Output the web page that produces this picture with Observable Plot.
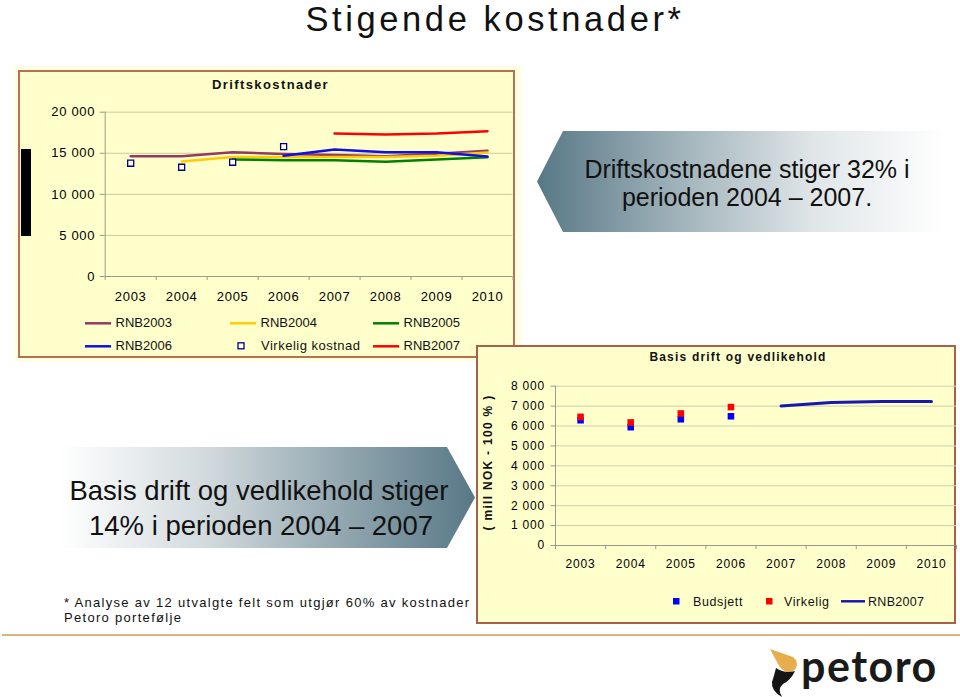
<!DOCTYPE html>
<html><head><meta charset="utf-8">
<script src="https://cdn.jsdelivr.net/npm/d3@7"></script>
<script src="https://cdn.jsdelivr.net/npm/@observablehq/plot@0.6"></script>
<style>
body{margin:0;background:#fff;font-family:"Liberation Sans",Arial,sans-serif;}
#slide{position:relative;width:960px;height:697px;overflow:hidden;background:#fff;}
#slide > *{position:absolute;}
.panel{box-sizing:border-box;background:#FFFFCC;}
</style></head><body>
<div id="slide">
<svg id="bg" width="960" height="697" style="left:0;top:0">
  <defs>
    <linearGradient id="g1" gradientUnits="userSpaceOnUse" x1="537" y1="0" x2="945" y2="0">
      <stop offset="0" stop-color="#587886"/><stop offset="0.33" stop-color="#9DB0B8"/>
      <stop offset="0.68" stop-color="#E0E6E8"/><stop offset="1" stop-color="#FFFFFF"/>
    </linearGradient>
    <linearGradient id="g2" gradientUnits="userSpaceOnUse" x1="476" y1="0" x2="60" y2="0">
      <stop offset="0" stop-color="#587886"/><stop offset="0.3" stop-color="#8EA4AD"/>
      <stop offset="0.65" stop-color="#D2DADD"/><stop offset="1" stop-color="#FFFFFF"/>
    </linearGradient>
  </defs>
  <text x="495" y="31" text-anchor="middle" font-size="34.5" letter-spacing="3.6" fill="#111">Stigende kostnader*</text>
  <polygon points="563,131 960,131 960,232 563,232 537,181.5" fill="url(#g1)"/>
  <text x="747" y="177.7" text-anchor="middle" font-size="25" fill="#111">Driftskostnadene stiger 32% i</text>
  <text x="747" y="206.2" text-anchor="middle" font-size="25" fill="#111">perioden 2004 – 2007.</text>
  <polygon points="40,447 447,447 475,497.5 447,548 40,548" fill="url(#g2)"/>
  <text x="259" y="500" text-anchor="middle" font-size="27.5" fill="#111">Basis drift og vedlikehold stiger</text>
  <text x="261" y="535" text-anchor="middle" font-size="27.5" fill="#111">14% i perioden 2004 – 2007</text>
  <text x="64" y="606.7" font-size="13" letter-spacing="1.3" fill="#111">* Analyse av 12 utvalgte felt som utgjør 60% av kostnader</text>
  <text x="64" y="621.7" font-size="13" letter-spacing="1.3" fill="#111">Petoro portefølje</text>
  <line x1="2" x2="960" y1="635" y2="635" stroke="#D6B57E" stroke-width="1.8"/>
  <path d="M770,649 L793,657 Q799,662 796,668 Q793,673 787,672 Q781,670 778,664 Z" fill="#E6AE4C"/>
  <path d="M776,668 Q785,674 795,671 Q791,680 783,684 Q777,689 782,697 Q771,691 772,682 Q774,676 776,668 Z" fill="#151515"/>
  <text x="801" y="682" font-family="Lato" font-weight="700" font-size="43" letter-spacing="1.5" fill="#1a1a1a">petoro</text>
</svg>
<div style="left:14px;top:66px;width:508px;height:296px;background:#FFFFE6"></div>
<div class="panel" style="left:18px;top:70px;width:497px;height:288px;border:2px solid #B9704E"></div>
<div id="topChart" style="left:20px;top:90px"></div>
<svg id="topFg" width="960" height="697" style="left:0;top:0;pointer-events:none"></svg>
<div class="panel" style="left:476px;top:345px;width:480px;height:279px;border:2px solid #A9604A"></div>
<div id="botChart" style="left:478px;top:370px"></div>
<svg id="botFg" width="960" height="697" style="left:0;top:0;pointer-events:none"></svg>
</div>
<script>
// ---------- data ----------
const years = [2003, 2004, 2005, 2006, 2007, 2008, 2009, 2010];
const topYTicks = [0, 5000, 10000, 15000, 20000];
const topSeriesNames = ["RNB2003", "RNB2004", "RNB2005", "RNB2006", "RNB2007"];
const topSeriesColors = ["#953A5F", "#FFCC00", "#008000", "#1010E6", "#FF0000"];
const rnb2003 = [14650, 14650, 15130, 14900, 14800, 14650, 14950, 15300];
const rnb2004 = [null, 14000, 14560, 14520, 14560, 14550, 14700, 15100];
const rnb2005 = [null, null, 14240, 14160, 14160, 13960, 14240, 14520];
const rnb2006 = [null, null, null, 14690, 15450, 15130, 15130, 14600];
const rnb2007 = [null, null, null, null, 17400, 17280, 17400, 17690];
const virkeligKostnadYears = [2003, 2004, 2005, 2006];
const virkeligKostnad = [13790, 13300, 13910, 15820];

const botYTicks = [0, 1000, 2000, 3000, 4000, 5000, 6000, 7000, 8000];
const actualYears = [2003, 2004, 2005, 2006];
const budsjett = [6290, 5940, 6340, 6490];
const virkelig = [6460, 6180, 6630, 6950];
const planYears = [2007, 2008, 2009, 2010];
const basisRnb2007 = [7010, 7180, 7230, 7230];

// ---------- helpers ----------
const xDomain = [years[0] - 0.5, years[years.length - 1] + 0.5];
const bandEdges = d3.range(xDomain[0], xDomain[1] + 0.01, 1);
const fmt = d => d3.format(",")(d).replace(/,/g, " ");
const seriesArrays = [rnb2003, rnb2004, rnb2005, rnb2006, rnb2007];
const topRows = [];
seriesArrays.forEach((arr, i) => arr.forEach((v, j) => { if (v != null) topRows.push({year: years[j], value: v, series: topSeriesNames[i]}); }));
const virkRows = virkeligKostnadYears.map((y, i) => ({year: y, value: virkeligKostnad[i]}));
const budRows = actualYears.map((y, i) => ({year: y, value: budsjett[i]}));
const virRows = actualYears.map((y, i) => ({year: y, value: virkelig[i]}));
const planRows = planYears.map((y, i) => ({year: y, value: basisRnb2007[i]}));

const axisGrey = "#9A9A8C";

// ---------- top chart ----------
const topPlot = Plot.plot({
  width: 494, height: 230,
  marginLeft: 84.7, marginRight: 1.5, marginTop: 21.7, marginBottom: 44,
  x: {domain: xDomain, label: null},
  y: {domain: [0, 20000], label: null},
  color: {domain: topSeriesNames, range: topSeriesColors},
  style: {background: "transparent", fontFamily: "Liberation Sans, Arial, sans-serif", fontSize: "13px", color: "#000", letterSpacing: "0.7px", overflow: "visible"},
  marks: [
    Plot.ruleY(topYTicks.slice(1), {stroke: "#CACA9C", strokeWidth: 1}),
    Plot.ruleY([topYTicks[0]], {stroke: axisGrey}),
    Plot.ruleX([xDomain[0]], {stroke: axisGrey}),
    Plot.axisY({ticks: topYTicks, tickFormat: fmt, tickSize: 5, tickPadding: 5, stroke: axisGrey, fill: "#000", label: null}),
    Plot.axisX({ticks: years, tickSize: 0, tickPadding: 15, tickFormat: d => String(d), fill: "#000", label: null}),
    Plot.axisX({ticks: bandEdges, tickSize: 4, tickFormat: () => "", stroke: axisGrey, label: null}),
    Plot.line(topRows, {x: "year", y: "value", z: "series", stroke: "series", strokeWidth: 2.5}),
    Plot.dot(virkRows, {x: "year", y: "value", symbol: "square", r: 3.4, stroke: "#000080", fill: "#fff", strokeWidth: 1.3})
  ]
});
document.getElementById("topChart").appendChild(topPlot);

// ---------- bottom chart ----------
const botPlot = Plot.plot({
  width: 478, height: 215,
  marginLeft: 77, marginRight: 0, marginTop: 15.7, marginBottom: 40,
  x: {domain: xDomain, label: null},
  y: {domain: [0, 8000], label: null},
  style: {background: "transparent", fontFamily: "Liberation Sans, Arial, sans-serif", fontSize: "12px", color: "#000", letterSpacing: "0.8px", overflow: "visible"},
  marks: [
    Plot.ruleY(botYTicks.slice(1), {stroke: "#CFCFAE", strokeWidth: 1}),
    Plot.ruleY([botYTicks[0]], {stroke: axisGrey}),
    Plot.ruleX([xDomain[0]], {stroke: axisGrey}),
    Plot.axisY({ticks: botYTicks, tickFormat: fmt, tickSize: 4.5, tickPadding: 6, stroke: axisGrey, fill: "#000", label: null}),
    Plot.axisX({ticks: years, tickSize: 0, tickPadding: 14, tickFormat: d => String(d), fill: "#000", label: null}),
    Plot.axisX({ticks: bandEdges, tickSize: 4, tickFormat: () => "", stroke: axisGrey, label: null}),
    Plot.dot(budRows, {x: "year", y: "value", symbol: "square", r: 3.7, fill: "#0000FF"}),
    Plot.dot(virRows, {x: "year", y: "value", symbol: "square", r: 3.7, fill: "#FF0000"}),
    Plot.line(planRows, {x: "year", y: "value", stroke: "#1818B0", strokeWidth: 3})
  ]
});
document.getElementById("botChart").appendChild(botPlot);

// ---------- overlays: titles, legends ----------
const NS = "http://www.w3.org/2000/svg";
function el(parent, tag, attrs, text) {
  const e = document.createElementNS(NS, tag);
  for (const k in attrs) e.setAttribute(k, attrs[k]);
  if (text != null) e.textContent = text;
  parent.appendChild(e);
  return e;
}
const tf = document.getElementById("topFg");
el(tf, "rect", {x: 21, y: 149, width: 10, height: 87, fill: "#000"});
el(tf, "text", {x: 270.5, y: 88.7, "text-anchor": "middle", "font-size": 13, "font-weight": "bold", "letter-spacing": 1.4, fill: "#111"}, "Driftskostnader");
const topLegend = [
  {name: "RNB2003", x: 85, row: 0}, {name: "RNB2004", x: 230, row: 0}, {name: "RNB2005", x: 373, row: 0},
  {name: "RNB2006", x: 85, row: 1}, {name: "Virkelig kostnad", x: 230, row: 1, square: true}, {name: "RNB2007", x: 373, row: 1}
];
topLegend.forEach(d => {
  const base = d.row === 0 ? 327.3 : 350.3;
  if (d.square) {
    el(tf, "rect", {x: d.x + 8, y: base - 7.5, width: 6, height: 6, fill: "#fff", stroke: "#000080", "stroke-width": 1.3});
  } else {
    el(tf, "line", {x1: d.x, x2: d.x + 26, y1: base - 4, y2: base - 4, stroke: topSeriesColors[topSeriesNames.indexOf(d.name)], "stroke-width": 2.5});
  }
  el(tf, "text", {x: d.x + (d.square ? 31 : 30.5), y: base, "font-size": 13, "letter-spacing": d.square ? 0.5 : 0, fill: "#111"}, d.name);
});

const bf = document.getElementById("botFg");
el(bf, "text", {x: 738, y: 361, "text-anchor": "middle", "font-size": 12, "font-weight": "bold", "letter-spacing": 1.2, fill: "#111"}, "Basis drift og vedlikehold");
el(bf, "text", {transform: "translate(492,462.5) rotate(-90)", "text-anchor": "middle", "font-size": 12, "font-weight": "bold", "letter-spacing": 1.3, fill: "#111"}, "( mill NOK - 100 % )");
el(bf, "rect", {x: 673, y: 598, width: 6.5, height: 6.5, fill: "#0000FF"});
el(bf, "text", {x: 693, y: 605.7, "font-size": 12.5, "letter-spacing": 0.6, fill: "#111"}, "Budsjett");
el(bf, "rect", {x: 766, y: 598, width: 6.5, height: 6.5, fill: "#FF0000"});
el(bf, "text", {x: 784, y: 605.7, "font-size": 12.5, "letter-spacing": 0.6, fill: "#111"}, "Virkelig");
el(bf, "line", {x1: 841, x2: 865, y1: 601.3, y2: 601.3, stroke: "#1818B0", "stroke-width": 2.5});
el(bf, "text", {x: 868, y: 605.7, "font-size": 12.5, "letter-spacing": 0.3, fill: "#111"}, "RNB2007");
</script>
</body></html>
